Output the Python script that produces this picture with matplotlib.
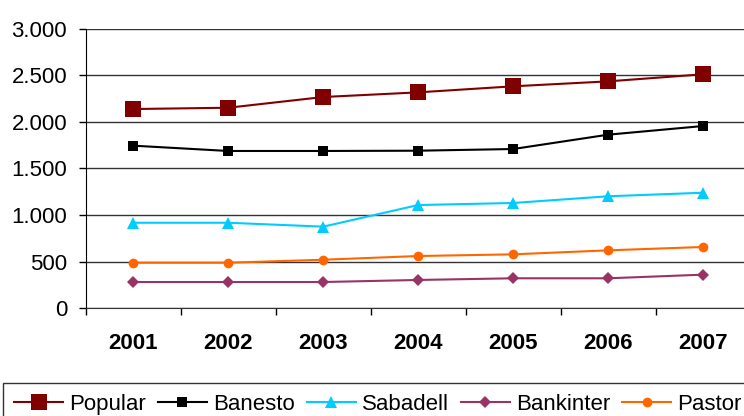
import matplotlib
matplotlib.use("Agg")
import matplotlib.pyplot as plt

plt.rcParams['font.family'] = ['Liberation Sans', 'DejaVu Sans']

years = ["2001", "2002", "2003", "2004", "2005", "2006", "2007"]
popular = [2138, 2152, 2267, 2317, 2382, 2435, 2511]
banesto = [1745, 1688, 1688, 1691, 1709, 1863, 1956]
sabadell = [918, 918, 876, 1108, 1130, 1202, 1240]
bankinter = [282, 282, 282, 304, 322, 322, 361]
pastor = [489, 489, 521, 561, 579, 622, 658]

series = [
    ("Popular", popular, "#800000", "s", 12.2),
    ("Banesto", banesto, "#000000", "s", 6.7),
    ("Sabadell", sabadell, "#00CCFF", "^", 8.0),
    ("Bankinter", bankinter, "#993366", "D", 6.3),
    ("Pastor", pastor, "#FF6600", "o", 7.0),
]

fig = plt.figure(figsize=(7.44, 4.16), dpi=100)
ax = fig.add_axes([85.7 / 744, 1 - 308.3 / 416, 665 / 744, 279.6 / 416])

xs = [i + 0.5 for i in range(len(years))]
for name, vals, col, mk, ms in series:
    ax.plot(xs, vals, color=col, marker=mk, markersize=ms, linewidth=1.5,
            markeredgewidth=0, label=name, clip_on=False)

ax.set_xlim(0, 7)
ax.set_ylim(0, 3000)
ax.set_yticks(range(0, 3001, 500))
ax.set_yticklabels([f"{v:,}".replace(",", ".") for v in range(0, 3001, 500)])
ax.set_xticks(range(0, 8))
ax.set_xticklabels([])
ax.set_xticks(xs, minor=True)
ax.set_xticklabels(years, minor=True, fontweight="bold", fontsize=16)
ax.tick_params(axis="x", which="minor", length=0, pad=17.8)
ax.tick_params(axis="x", which="major", length=4.8, width=1, direction="out")
ax.tick_params(axis="y", length=4.8, width=1, direction="out", labelsize=16, pad=8.5)

ax.yaxis.grid(True, color="#333333", linewidth=1)
ax.set_axisbelow(True)
for s in ["top", "right"]:
    ax.spines[s].set_visible(False)
ax.spines["left"].set_color("black")
ax.spines["bottom"].set_color("#333333")

leg = fig.legend(loc="upper left", bbox_to_anchor=(3 / 744, 1 - 383 / 416),
                 ncol=5, fontsize=16, frameon=True, fancybox=False,
                 handlelength=2.2, handletextpad=0.27, columnspacing=0.55,
                 borderpad=0.5, borderaxespad=0)
leg.get_frame().set_edgecolor("black")
leg.get_frame().set_linewidth(1)

fig.savefig("out.png", dpi=100)
